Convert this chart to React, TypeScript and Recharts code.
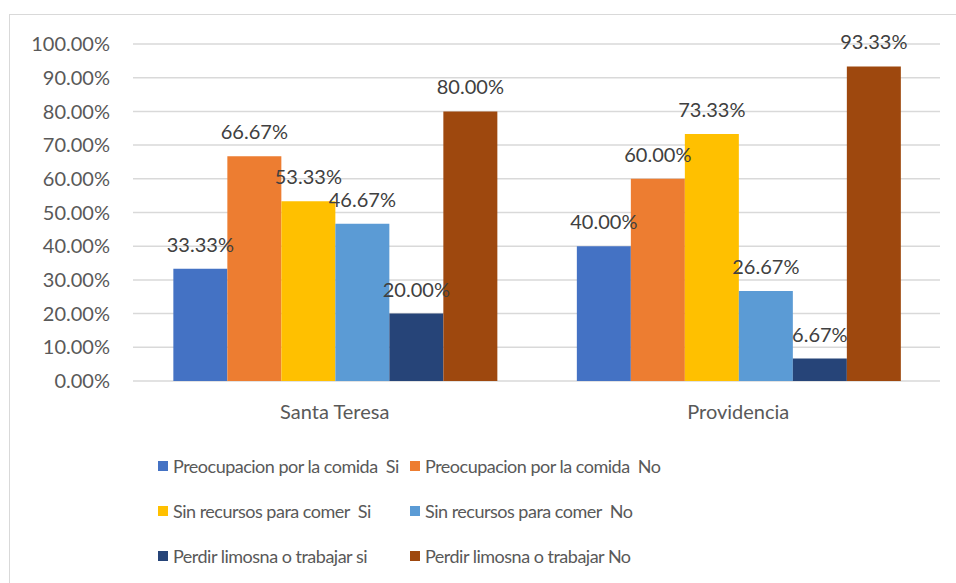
import { BarChart, Bar, XAxis, YAxis, CartesianGrid, LabelList } from 'recharts';

const categories = ['Santa Teresa', 'Providencia'];
const seriesNames = [
  'Preocupacion por la comida  Si',
  'Preocupacion por la comida  No',
  'Sin recursos para comer  Si',
  'Sin recursos para comer  No',
  'Perdir limosna o trabajar si',
  'Perdir limosna o trabajar No',
];
const comidaSi = [33.33, 40.0];
const comidaNo = [66.67, 60.0];
const recursosSi = [53.33, 73.33];
const recursosNo = [46.67, 26.67];
const limosnaSi = [20.0, 6.67];
const limosnaNo = [80.0, 93.33];
const yTicks = [0, 10, 20, 30, 40, 50, 60, 70, 80, 90, 100];

const colors = ['#4472C4', '#ED7D31', '#FFC000', '#5B9BD5', '#264478', '#9E480E'];
const seriesValues = [comidaSi, comidaNo, recursosSi, recursosNo, limosnaSi, limosnaNo];

const data = categories.map((name, i) => {
  const row: Record<string, string | number> = { name };
  seriesValues.forEach((vals, s) => {
    row['s' + s] = vals[i];
  });
  return row;
});

const FONT = 'Lato, "Open Sans", sans-serif';
const fmt = (v: number) => v.toFixed(2) + '%';

export default function App() {
  return (
    <div style={{ position: 'absolute', left: 0, top: 0, width: 956, height: 583, background: '#fff', overflow: 'hidden', fontFamily: FONT }}>
      {/* chart frame */}
      <div style={{ position: 'absolute', left: 9, top: 14, width: 960, height: 600, border: '1px solid #d9d9d9' }} />
      <BarChart
        width={956}
        height={583}
        data={data}
        margin={{ top: 44, right: 16, left: 0, bottom: 172 }}
        barCategoryGap="10%"
        barGap={0}
        style={{ position: 'absolute', left: 0, top: 0 }}
      >
        <CartesianGrid vertical={false} stroke="#d9d9d9" strokeWidth={1.5} />
        <XAxis
          dataKey="name"
          axisLine={false}
          tickLine={false}
          tickSize={0}
          tickMargin={24}
          height={30}
          tick={{ fontSize: 20, fill: '#595959', fontFamily: FONT }}
        />
        <YAxis
          domain={[0, 100]}
          ticks={yTicks}
          interval={0}
          width={133}
          axisLine={false}
          tickLine={false}
          tickSize={0}
          tickMargin={23}
          tickFormatter={fmt}
          tick={{ fontSize: 20, fill: '#595959', fontFamily: FONT }}
        />
        {seriesNames.map((n, s) => (
          <Bar key={n} dataKey={'s' + s} name={n} fill={colors[s]} isAnimationActive={false}>
            <LabelList
              dataKey={'s' + s}
              position="top"
              offset={17}
              formatter={(v: any) => fmt(Number(v))}
              style={{ fontSize: 20, fill: '#404040', fontFamily: FONT }}
            />
          </Bar>
        ))}
      </BarChart>
      {/* legend */}
      {seriesNames.map((n, s) => {
        const col = s % 2;
        const row = Math.floor(s / 2);
        return (
          <div
            key={n}
            style={{
              position: 'absolute',
              left: col === 0 ? 158 : 410,
              top: 466 + row * 45 - 12,
              height: 24,
              display: 'flex',
              alignItems: 'center',
              fontSize: 18,
              letterSpacing: -0.5,
              color: '#595959',
              whiteSpace: 'pre',
            }}
          >
            <span style={{ display: 'inline-block', width: 10, height: 10, background: colors[s], marginRight: 5 }} />
            {n}
          </div>
        );
      })}
    </div>
  );
}
